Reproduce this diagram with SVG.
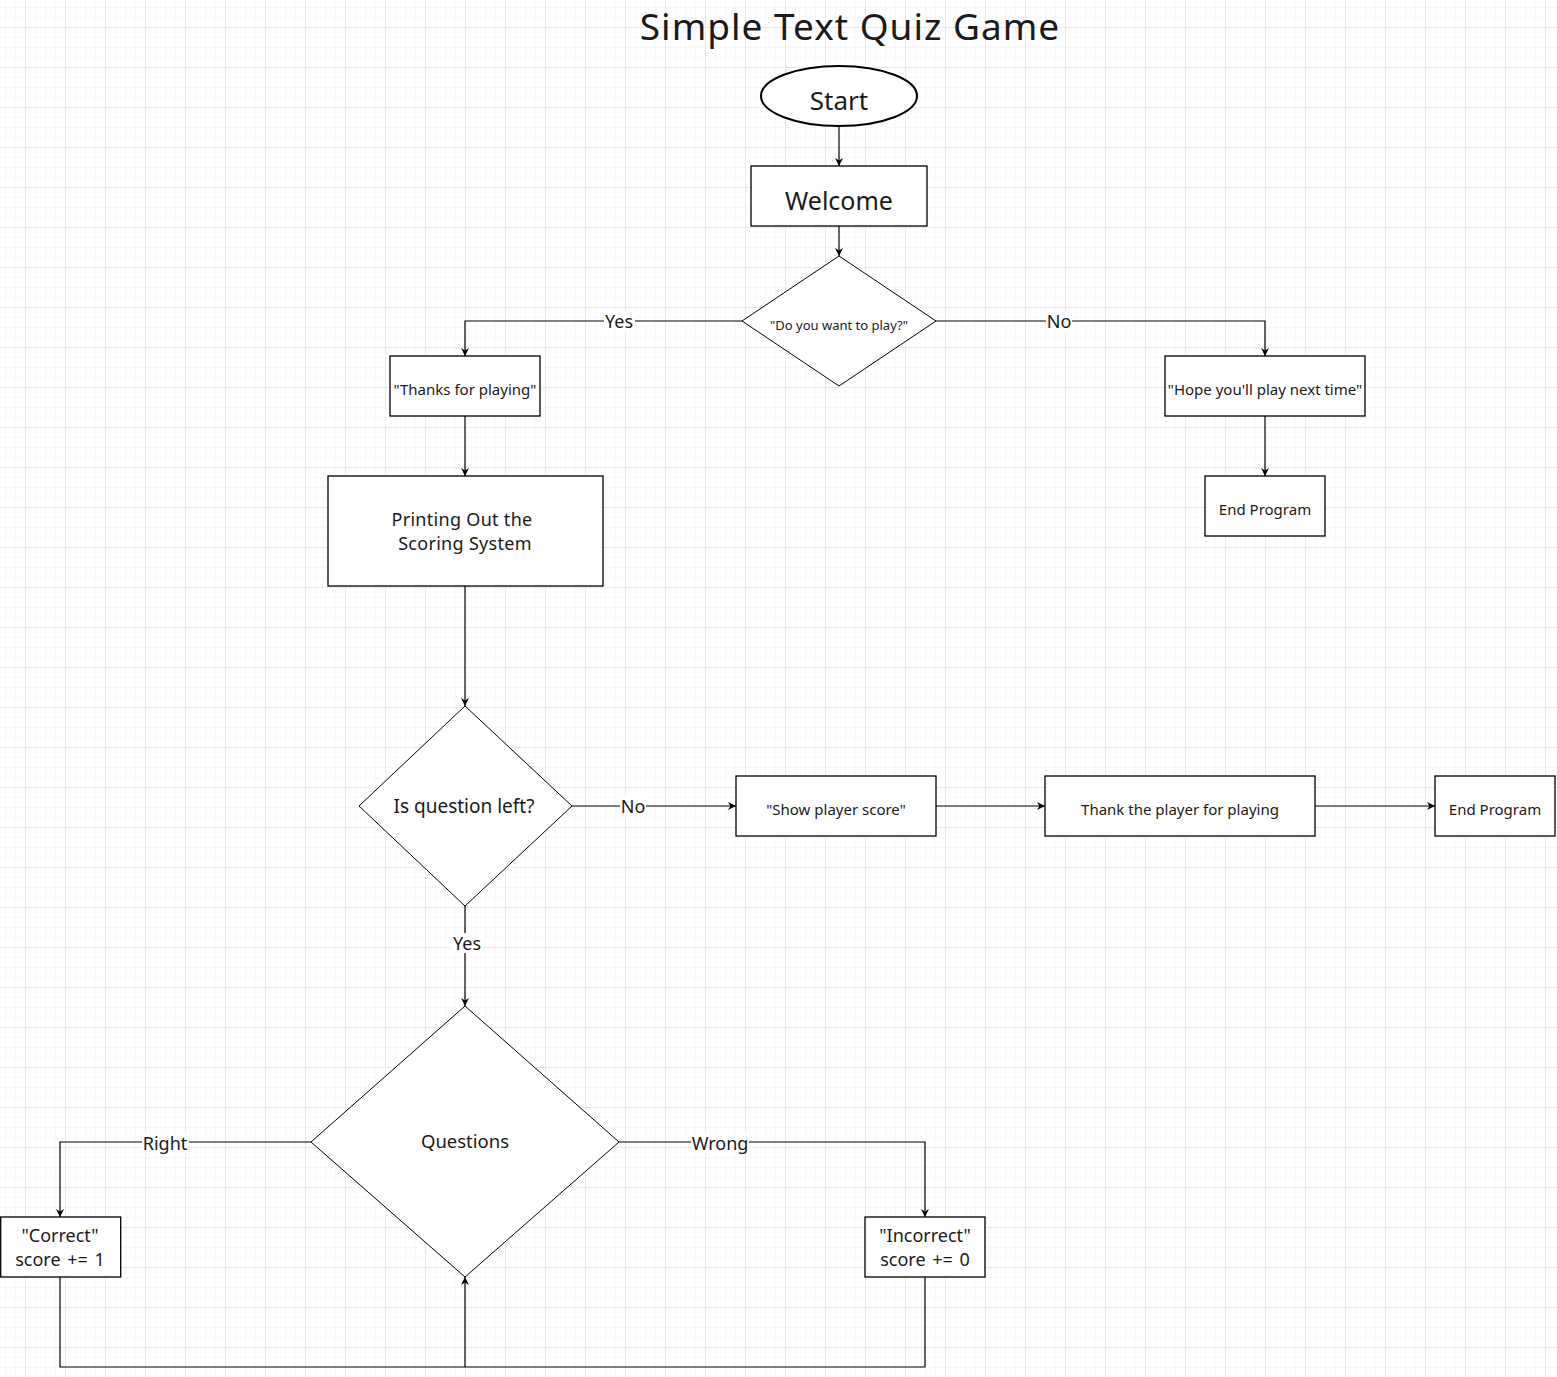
<svg xmlns="http://www.w3.org/2000/svg" width="1557" height="1377" viewBox="0 0 1557 1377">
<defs>
<pattern id="minor" x="5" y="7" width="10" height="10" patternUnits="userSpaceOnUse">
<path d="M0 0H10M0 0V10" fill="none" stroke="#f1f1f1" stroke-width="1"/>
</pattern>
<pattern id="major" x="25" y="27" width="40" height="40" patternUnits="userSpaceOnUse">
<path d="M0 0H40M0 0V40" fill="none" stroke="#dcdcdc" stroke-width="1"/>
</pattern>
<marker id="arr" viewBox="0 0 10 10" refX="10" refY="5" markerWidth="8" markerHeight="8" markerUnits="userSpaceOnUse" orient="auto">
<path d="M0 0L10 5L0 10L3 5Z" fill="#000"/>
</marker>
</defs>
<style>
.n{fill:#fff;stroke:#000;stroke-width:1.3}
.d{fill:#fff;stroke:#000;stroke-width:1}
.e{stroke:#000;stroke-width:1.2;fill:none}
.t{font-family:"Noto Sans","Open Sans",sans-serif;fill:#1a1a1a;text-anchor:middle}
.lbl{fill:#fff}
</style>
<rect width="1557" height="1377" fill="#fff"/>
<rect width="1557" height="1377" fill="url(#minor)"/>
<rect width="1557" height="1377" fill="url(#major)"/>

<text class="t" x="850" y="40" font-size="37" letter-spacing="1" fill="#000">Simple Text Quiz Game</text>

<g id="connectors">
<path class="e" d="M839 126V166" marker-end="url(#arr)"/>
<path class="e" d="M839 226V256" marker-end="url(#arr)"/>
<path class="e" d="M742 321H465V356" marker-end="url(#arr)"/>
<path class="e" d="M936 321H1265V356" marker-end="url(#arr)"/>
<path class="e" d="M1265 416V476" marker-end="url(#arr)"/>
<path class="e" d="M465 416V476" marker-end="url(#arr)"/>
<path class="e" d="M465 586V706" marker-end="url(#arr)"/>
<path class="e" d="M572 806H736" marker-end="url(#arr)"/>
<path class="e" d="M936 806H1045" marker-end="url(#arr)"/>
<path class="e" d="M1315 806H1435" marker-end="url(#arr)"/>
<path class="e" d="M465 906V1006" marker-end="url(#arr)"/>
<path class="e" d="M311 1142H60V1217" marker-end="url(#arr)"/>
<path class="e" d="M619 1142H925V1217" marker-end="url(#arr)"/>
<path class="e" d="M60 1277V1367H465V1277" marker-end="url(#arr)"/>
<path class="e" d="M925 1277V1367H465"/>
<g id="labels">
<rect class="lbl" x="604" y="311" width="31" height="20"/>
<text class="t" x="619" y="328" font-size="18">Yes</text>
<rect class="lbl" x="1046" y="311" width="26" height="20"/>
<text class="t" x="1059" y="328" font-size="18">No</text>
<rect class="lbl" x="620" y="796" width="26" height="20"/>
<text class="t" x="633" y="813" font-size="18">No</text>
<rect class="lbl" x="451" y="933" width="32" height="20"/>
<text class="t" x="467" y="950" font-size="18">Yes</text>
<rect class="lbl" x="142" y="1133" width="47" height="20"/>
<text class="t" x="165" y="1150" font-size="18">Right</text>
<rect class="lbl" x="691" y="1133" width="58" height="20"/>
<text class="t" x="720" y="1150" font-size="18">Wrong</text>
</g>
</g>

<g id="start">
<ellipse cx="839" cy="96" rx="78" ry="30" fill="#fff" stroke="#000" stroke-width="2"/>
<text class="t" x="839" y="110" font-size="26">Start</text>
</g>
<g id="welcome">
<rect class="n" x="751" y="166" width="176" height="60"/>
<text class="t" x="839" y="210" font-size="25">Welcome</text>
</g>
<g id="want-play">
<path class="d" d="M839 256L936 321L839 386L742 321Z"/>
<text class="t" x="839" y="330" font-size="13">"Do you want to play?"</text>
</g>
<g id="thanks">
<rect class="n" x="390" y="356" width="150" height="60"/>
<text class="t" x="465" y="395" font-size="15">"Thanks for playing"</text>
</g>
<g id="hope">
<rect class="n" x="1165" y="356" width="200" height="60"/>
<text class="t" x="1265" y="395" font-size="15">"Hope you'll play next time"</text>
</g>
<g id="end1">
<rect class="n" x="1205" y="476" width="120" height="60"/>
<text class="t" x="1265" y="515" font-size="15">End Program</text>
</g>
<g id="printing">
<rect class="n" x="328" y="476" width="275" height="110"/>
<text class="t" x="462" y="526" font-size="18" letter-spacing="0.3">Printing Out the</text>
<text class="t" x="465" y="550" font-size="18" letter-spacing="0.3">Scoring System</text>
</g>
<g id="question-left">
<path class="d" d="M465 706L572 806L465 906L359 806Z"/>
<text class="t" x="464" y="813" font-size="19">Is question left?</text>
</g>
<g id="show-score">
<rect class="n" x="736" y="776" width="200" height="60"/>
<text class="t" x="836" y="815" font-size="15">"Show player score"</text>
</g>
<g id="thank-player">
<rect class="n" x="1045" y="776" width="270" height="60"/>
<text class="t" x="1180" y="815" font-size="15">Thank the player for playing</text>
</g>
<g id="end2">
<rect class="n" x="1435" y="776" width="120" height="60"/>
<text class="t" x="1495" y="815" font-size="15">End Program</text>
</g>
<g id="questions">
<path class="d" d="M465 1006L619 1142L465 1277L311 1142Z"/>
<text class="t" x="465" y="1148" font-size="18.5">Questions</text>
</g>
<g id="correct">
<rect class="n" x="0.7" y="1217" width="120" height="60"/>
<text class="t" x="60" y="1242" font-size="18">"Correct"</text>
<text class="t" x="60" y="1266" font-size="18" word-spacing="2">score += 1</text>
</g>
<g id="incorrect">
<rect class="n" x="865" y="1217" width="120" height="60"/>
<text class="t" x="925" y="1242" font-size="18">"Incorrect"</text>
<text class="t" x="925" y="1266" font-size="18" word-spacing="2">score += 0</text>
</g>
</svg>
